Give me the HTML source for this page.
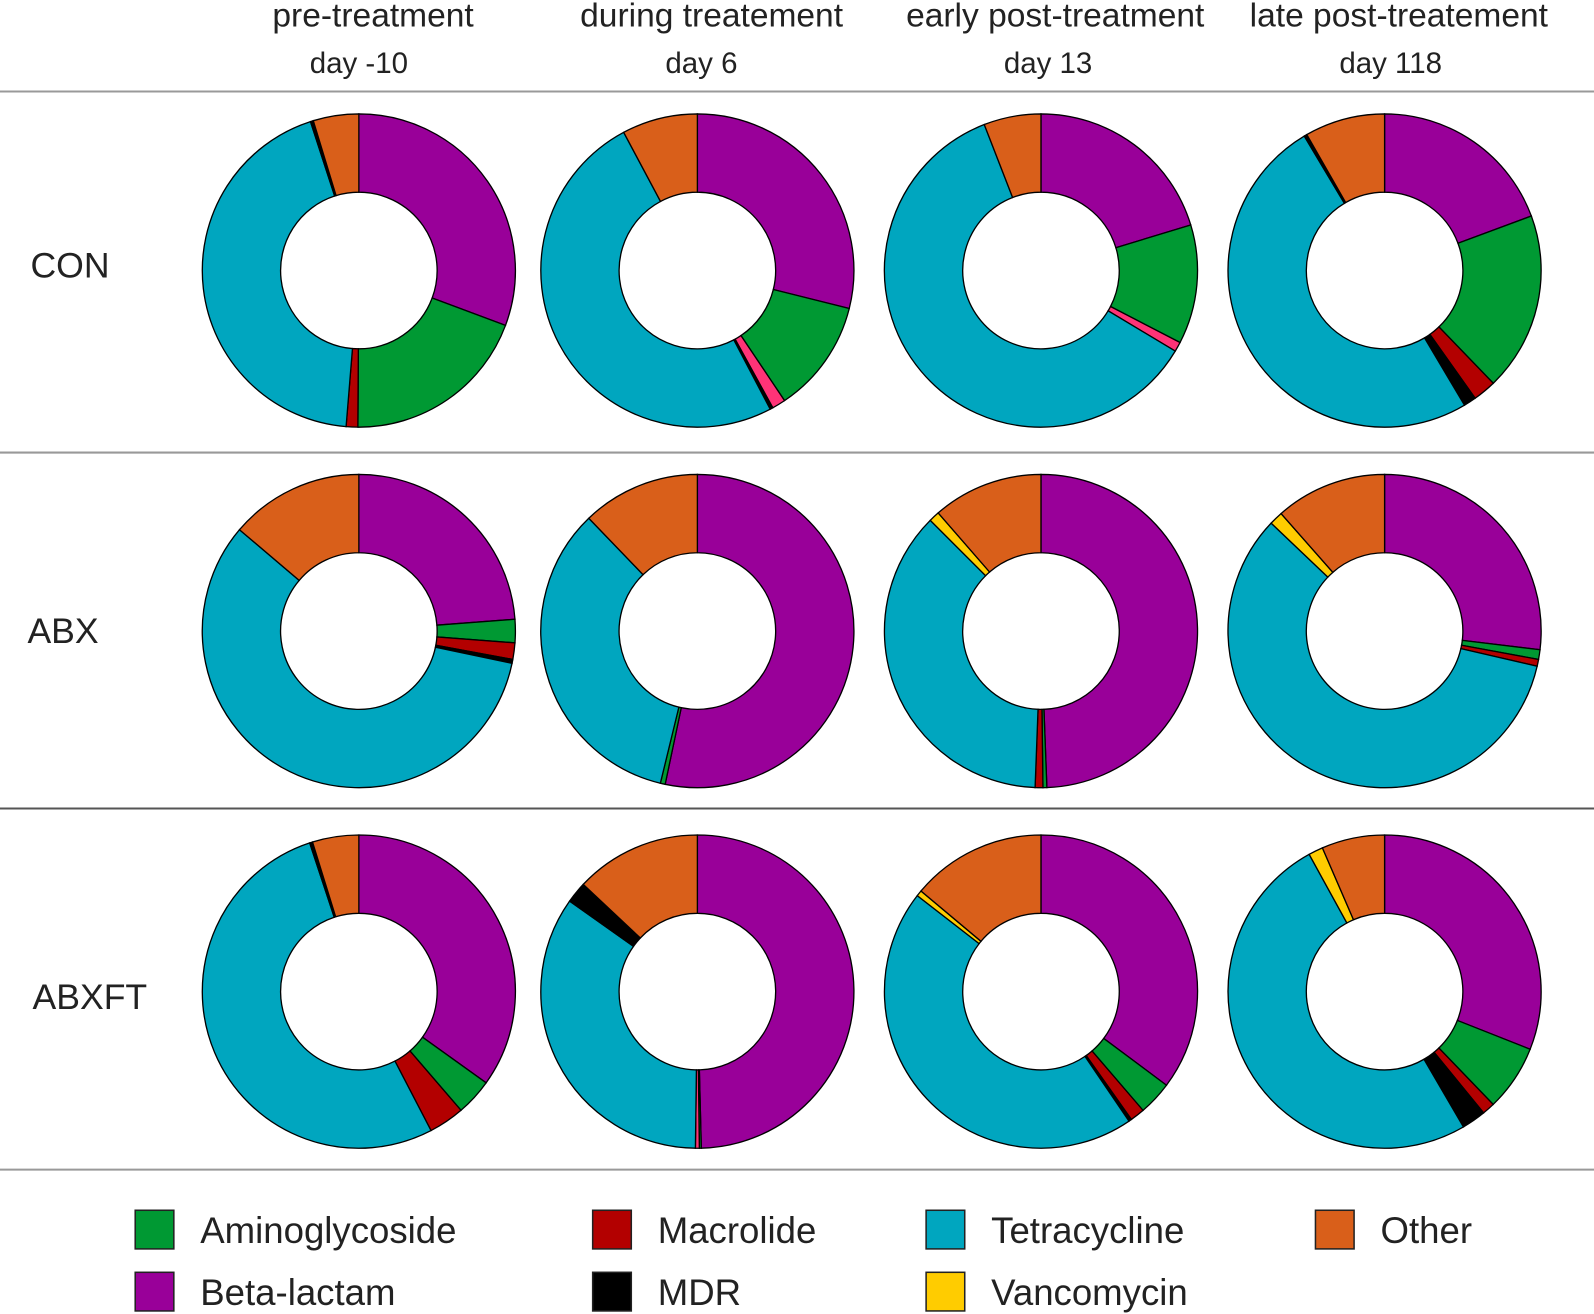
<!DOCTYPE html>
<html><head><meta charset="utf-8"><style>
html,body{margin:0;padding:0;background:#fff;}
svg{display:block;}
text{font-family:"Liberation Sans",sans-serif;fill:#222;}
</style></head><body>
<svg id="chart" width="1594" height="1314" viewBox="0 0 1568 1292" preserveAspectRatio="none" xmlns="http://www.w3.org/2000/svg">
<g>
<text x="367" y="26" font-size="33" text-anchor="middle">pre-treatment</text>
<text x="353" y="72" font-size="29" text-anchor="middle">day -10</text>
<text x="700" y="26" font-size="33" text-anchor="middle">during treatement</text>
<text x="690" y="72" font-size="29" text-anchor="middle">day 6</text>
<text x="1038" y="26" font-size="33" text-anchor="middle">early post-treatment</text>
<text x="1031" y="72" font-size="29" text-anchor="middle">day 13</text>
<text x="1376" y="26" font-size="33" text-anchor="middle">late post-treatement</text>
<text x="1368" y="72" font-size="29" text-anchor="middle">day 118</text>
</g>
<g stroke="#999" stroke-width="2">
<line x1="0" x2="1568" y1="90" y2="90"/>
<line x1="0" x2="1568" y1="445" y2="445"/>
<line x1="0" x2="1568" y1="795" y2="795" stroke="#555"/>
<line x1="0" x2="1568" y1="1150" y2="1150"/>
</g>
<text x="30" y="273" font-size="35">CON</text>
<text x="27" y="632" font-size="35">ABX</text>
<text x="32" y="992" font-size="35">ABXFT</text>
<g id="pies"></g>
<g id="legend"></g>
</svg>
<script>
const groups = ["CON","ABX","ABXFT"];
const days = ["day -10","day 6","day 13","day 118"];
const betaLactam    = [30.7,28.9,20.3,19.4, 23.8,53.3,49.4,26.9, 35.0,49.6,35.2,31.0];
const aminoglycoside= [19.4,11.7,12.3,18.5, 2.4,0.5,0.4,1.0, 3.8,0.2,3.5,6.8];
const unclassified  = [0,1.4,1.0,0, 0,0,0,0, 0,0.4,0,0];
const macrolide     = [1.2,0,0,2.4, 1.7,0,0.8,0.7, 3.7,0,1.5,1.3];
const mdr           = [0,0.3,0,1.3, 0.4,0,0,0, 0,0,0.3,2.5];
const tetracycline  = [43.7,49.9,60.5,50.1, 57.9,34.0,36.9,58.5, 52.7,34.6,45.0,50.4];
const vancomycin    = [0,0,0,0, 0,0,1.1,1.4, 0,0,0.6,1.5];
const mdrLate       = [0.3,0,0,0.3, 0,0,0,0, 0.3,2.2,0,0];
const other         = [4.7,7.8,5.9,8.3, 13.8,12.2,11.4,11.5, 4.8,13.0,13.9,6.5];

const series = [
 {name:"beta-lactam", vals:betaLactam, color:"#990099"},
 {name:"aminoglycoside", vals:aminoglycoside, color:"#009933"},
 {name:"unclassified", vals:unclassified, color:"#ff3377"},
 {name:"macrolide", vals:macrolide, color:"#b30000"},
 {name:"mdr", vals:mdr, color:"#000000"},
 {name:"tetracycline", vals:tetracycline, color:"#00a6bf"},
 {name:"vancomycin", vals:vancomycin, color:"#ffcc00"},
 {name:"mdr", vals:mdrLate, color:"#000000"},
 {name:"other", vals:other, color:"#d95f1a"}
];
const colCenters = [353,686,1024,1362];
const colX = c => colCenters[c];
const rowY = r => 266 + r*354.5;
const R = 154, r0 = 77;
const NS = "http://www.w3.org/2000/svg";
const pies = document.getElementById("pies");
function pt(cx,cy,rad,a){return [cx+rad*Math.sin(a), cy-rad*Math.cos(a)];}
for(let i=0;i<12;i++){
  const row=Math.floor(i/4), col=i%4;
  const cx=colX(col), cy=rowY(row);
  const g=document.createElementNS(NS,"g");
  
  
  pies.appendChild(g);
  let total=0; series.forEach(s=>total+=s.vals[i]);
  let acc=0;
  series.forEach(s=>{
    const v=s.vals[i]; if(v<=0) return;
    const a0=acc/total*2*Math.PI, a1=(acc+v)/total*2*Math.PI; acc+=v;
    const large=(a1-a0)>Math.PI?1:0;
    const p0=pt(cx,cy,R,a0),p1=pt(cx,cy,R,a1),q1=pt(cx,cy,r0,a1),q0=pt(cx,cy,r0,a0);
    const d=`M${p0[0]},${p0[1]} A${R},${R} 0 ${large} 1 ${p1[0]},${p1[1]} L${q1[0]},${q1[1]} A${r0},${r0} 0 ${large} 0 ${q0[0]},${q0[1]} Z`;
    const p=document.createElementNS(NS,"path");
    p.setAttribute("d",d); p.setAttribute("fill",s.color);
    p.setAttribute("stroke","#000"); p.setAttribute("stroke-width","1.3");
    
    
    g.appendChild(p);
  });
}
const legNames=["Aminoglycoside","Macrolide","Tetracycline","Other","Beta-lactam","MDR","Vancomycin"];
const legColors=["#009933","#b30000","#00a6bf","#d95f1a","#990099","#000000","#ffcc00"];
const legX=[133,583,911,1294];
const leg=document.getElementById("legend");
legNames.forEach((n,k)=>{
  const x=legX[k%4], y=k<4?1190:1251;
  const g=document.createElementNS(NS,"g");
  
  
  const rc=document.createElementNS(NS,"rect");
  rc.setAttribute("x",x);rc.setAttribute("y",y);rc.setAttribute("width",38);rc.setAttribute("height",38);
  rc.setAttribute("fill",legColors[k]);rc.setAttribute("stroke","#222");rc.setAttribute("stroke-width","1.5");
  
  
  const t=document.createElementNS(NS,"text");
  t.setAttribute("x",x+64);t.setAttribute("y",y+32);t.setAttribute("font-size","36");t.textContent=n;
  
  
  g.appendChild(rc);g.appendChild(t);leg.appendChild(g);
});
</script>
</body></html>
